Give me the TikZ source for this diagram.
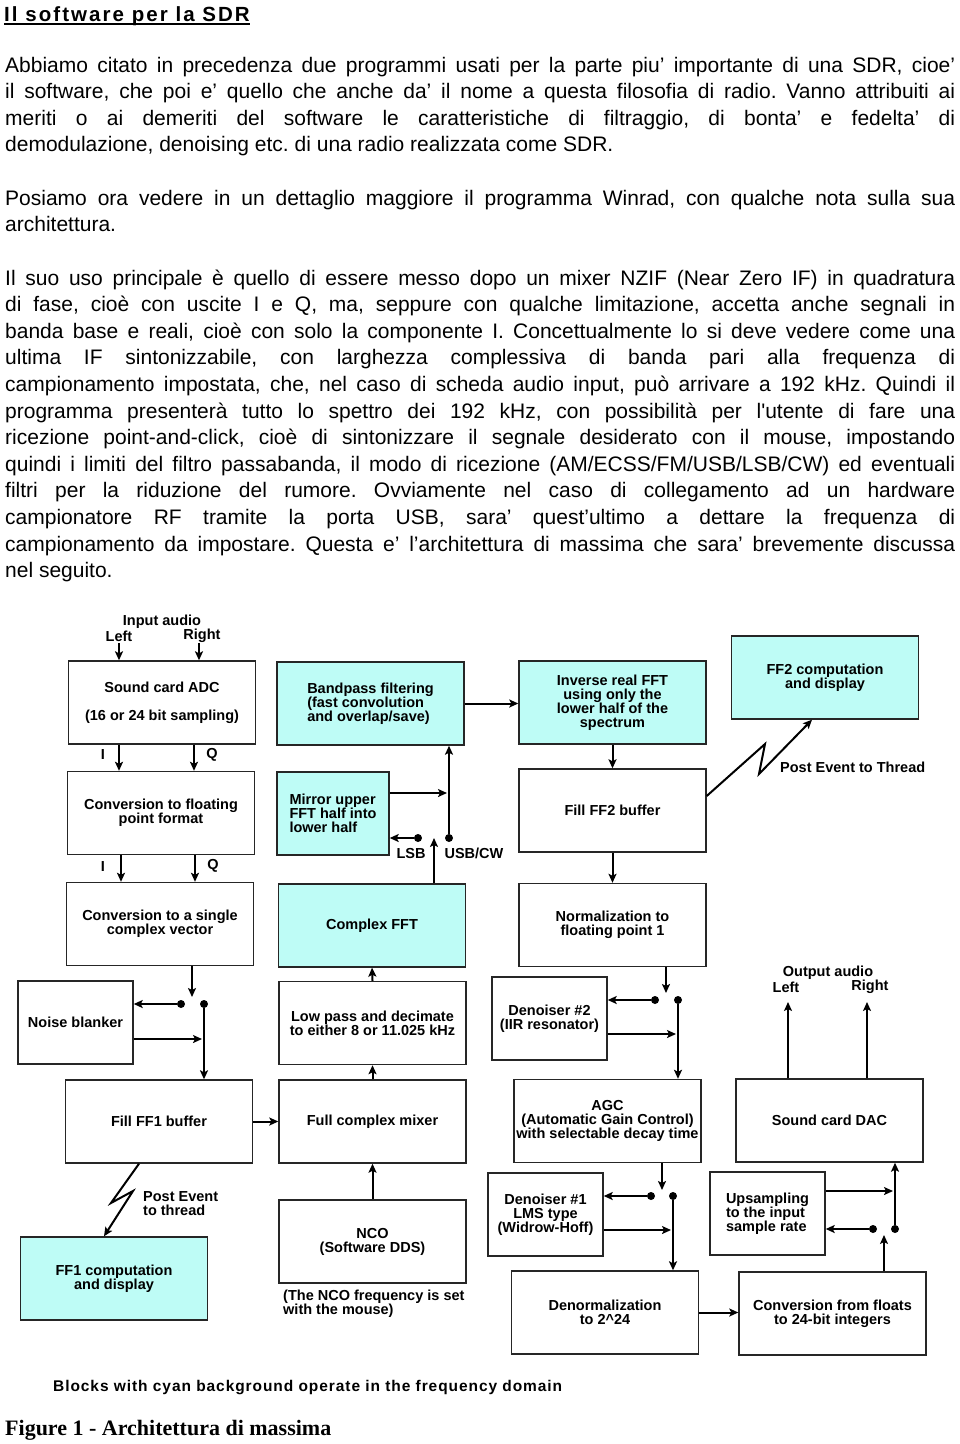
\documentclass[tikz,border=0pt]{standalone}
\usepackage{fontspec}
\setmainfont{Liberation Sans}
\newfontfamily\capfont{Liberation Serif}
\usetikzlibrary{arrows.meta,calc}

\definecolor{freqcyan}{RGB}{190,252,246}
\newcommand{\diagfont}{\fontsize{14.5}{14}\selectfont\bfseries}
\newcommand{\bodyfont}{\fontsize{21}{26.6}\selectfont\frenchspacing\parindent=0pt\hyphenpenalty=10000\exhyphenpenalty=10000\tolerance=10000\hbadness=10000}
\newcommand{\titlefont}{\fontsize{20.5}{24}\selectfont\bfseries\addfontfeatures{LetterSpace=10}}

\tikzset{
	blk/.style={draw=black!85,line width=1.4pt,minimum width=187pt,minimum height=83pt,inner sep=2pt,align=center,font=\diagfont},
	sblk/.style={blk,minimum width=115pt},
	fblk/.style={blk,fill=freqcyan},
	lbl/.style={inner sep=0pt,align=center,font=\diagfont},
	arr/.style={line width=2pt,-{Stealth[length=9pt,width=8pt,inset=2pt]}},
	swdot/.style={circle,fill=black,inner sep=0pt,minimum size=8pt},
	para/.style={inner sep=0pt,anchor=base west,text width=950pt,align=justify,font=\bodyfont}
}

\begin{document}
\begin{tikzpicture}[x=1pt,y=-1pt]
		\useasboundingbox (0,0) rectangle (960,1444);
		% page text
		\node [inner sep=0pt,anchor=base west,font=\titlefont] (title) at (4,21) {Il software per la SDR};
		\draw [line width=1.6pt] ($(title.base west)+(0,3)$)--($(title.base east)+(0,3)$);
		\node [para] (par1) at (5,72) {Abbiamo citato in precedenza due programmi usati per la parte piu’ importante di una SDR, cioe’\linebreak il software, che poi e’ quello che anche da’ il nome a questa filosofia di radio. Vanno attribuiti ai\linebreak meriti o ai demeriti del software le caratteristiche di filtraggio, di bonta’ e fedelta’ di\linebreak demodulazione, denoising etc. di una radio realizzata come SDR.};
		\node [para] (par2) at (5,205) {Posiamo ora vedere in un dettaglio maggiore il programma Winrad, con qualche nota sulla sua\linebreak architettura.};
		\node [para] (par3) at (5,285) {Il suo uso principale è quello di essere messo dopo un mixer NZIF (Near Zero IF) in quadratura\linebreak di fase, cioè con uscite I e Q, ma, seppure con qualche limitazione, accetta anche segnali in\linebreak banda base e reali, cioè con solo la componente I. Concettualmente lo si deve vedere come una\linebreak ultima IF sintonizzabile, con larghezza complessiva di banda pari alla frequenza di\linebreak campionamento impostata, che, nel caso di scheda audio input, può arrivare a 192 kHz. Quindi il\linebreak programma presenterà tutto lo spettro dei 192 kHz, con possibilità per l\textquotesingle utente di fare una\linebreak ricezione point-and-click, cioè di sintonizzare il segnale desiderato con il mouse, impostando\linebreak quindi i limiti del filtro passabanda, il modo di ricezione (AM/ECSS/FM/USB/LSB/CW) ed eventuali\linebreak filtri per la riduzione del rumore. Ovviamente nel caso di collegamento ad un hardware\linebreak campionatore RF tramite la porta USB, sara’ quest’ultimo a dettare la frequenza di\linebreak campionamento da impostare. Questa e’ l’architettura di massima che sara’ brevemente discussa\linebreak nel seguito.};
		% blocks
		\node [blk] (adc) at (162,702.5) {Sound card ADC\\[14pt](16 or 24 bit sampling)};
		\node [blk] (tofloat) at (161,813) {Conversion to floating\\point format};
		\node [blk] (tocplx) at (160,924) {Conversion to a single\\complex vector};
		\node [sblk] (nb) at (75.5,1022.5) {Noise blanker};
		\node [blk] (ff1buf) at (159,1121.5) {Fill FF1 buffer};
		\node [fblk] (ff1) at (114,1278.5) {FF1 computation\\and display};
		\node [fblk,align=left] (bpf) at (370.5,703.5) {Bandpass filtering\\(fast convolution\\and overlap/save)};
		\node [fblk,minimum width=112pt,align=left] (mirror) at (333,813.5) {Mirror upper\\FFT half into\\lower half};
		\node [fblk] (cfft) at (372,925.5) {Complex FFT};
		\node [blk] (lpf) at (372.5,1023) {Low pass and decimate\\to either 8 or 11.025 kHz};
		\node [blk] (mixer) at (372.5,1121.5) {Full complex mixer};
		\node [blk] (nco) at (372.5,1241.5) {NCO\\(Software DDS)};
		\node [fblk] (ifft) at (612.5,702.5) {Inverse real FFT\\using only the\\lower half of the\\spectrum};
		\node [blk] (ff2buf) at (612.5,810.5) {Fill FF2 buffer};
		\node [blk] (norm) at (612.5,925) {Normalization to\\floating point 1};
		\node [sblk] (dn2) at (549.5,1018.5) {Denoiser \#2\\(IIR resonator)};
		\node [blk] (agc) at (607.5,1121) {AGC\\(Automatic Gain Control)\\with selectable decay time};
		\node [sblk] (dn1) at (545.5,1214.5) {Denoiser \#1\\LMS type\\(Widrow-Hoff)};
		\node [blk] (denorm) at (605,1312.5) {Denormalization\\to 2\textasciicircum 24};
		\node [fblk] (ff2) at (825,677.5) {FF2 computation\\and display};
		\node [blk] (dac) at (829.5,1120.5) {Sound card DAC};
		\node [sblk,align=left] (upsmp) at (767.5,1213.5) {Upsampling\\to the input\\sample rate};
		\node [blk] (f2i) at (832.5,1313.5) {Conversion from floats\\to 24-bit integers};
		% switches
		\node [swdot] (sw1a) at (181,1004) {};
		\node [swdot] (sw1b) at (204,1004) {};
		\node [swdot] (lsb) at (418,838) {};
		\node [swdot] (usb) at (449,838) {};
		\node [swdot] (sw2a) at (655,1000) {};
		\node [swdot] (sw2b) at (678,1000) {};
		\node [swdot] (sw3a) at (651,1196) {};
		\node [swdot] (sw3b) at (673,1196) {};
		\node [swdot] (sw4a) at (873,1229) {};
		\node [swdot] (sw4b) at (895,1229) {};
		% labels
		\node [lbl] (inaudio) at (162,622) {Input audio};
		\node [lbl] (inleft) at (119,636) {Left};
		\node [lbl] (inright) at (202,636) {Right};
		\node [lbl] (i1) at (103,755) {I};
		\node [lbl] (q1) at (212,755) {Q};
		\node [lbl] (i2) at (103,866) {I};
		\node [lbl] (q2) at (213,866) {Q};
		\node [lbl] (lsbtxt) at (411,853) {LSB};
		\node [lbl] (usbtxt) at (474,853) {USB/CW};
		\node [lbl,anchor=west] (post2) at (780,767) {Post Event to Thread};
		\node [lbl,anchor=west,align=left] (post1) at (143,1203.5) {Post Event\\to thread};
		\node [lbl] (outaudio) at (828,973) {Output audio};
		\node [lbl] (outleft) at (786,987) {Left};
		\node [lbl] (outright) at (870,987) {Right};
		\node [lbl,anchor=west,align=left] (ncotxt) at (283,1303.5) {(The NCO frequency is set\\with the mouse)};
		\node [lbl,anchor=west,font=\fontsize{15.5}{16}\selectfont\bfseries\addfontfeatures{LetterSpace=6}] (legend) at (53,1388) {Blocks with cyan background operate in the frequency domain};
		\node [inner sep=0pt,anchor=base west,font=\capfont\fontsize{22}{26}\selectfont\bfseries] (caption) at (5,1435) {Figure 1 - Architettura di massima};
		% free ends
		\coordinate (cinL) at (119,643);
		\coordinate (cinR) at (199,643);
		\coordinate (cI1) at (119,0);
		\coordinate (cQ1) at (194,0);
		\coordinate (cI2) at (121,0);
		\coordinate (cQ2) at (195,0);
		\coordinate (sw1tip) at (192,997);
		\coordinate (cffttip) at (434,838);
		\coordinate (sw2tip) at (666,993);
		\coordinate (sw3tip) at (662,1190);
		\coordinate (sw4tip) at (884,1235);
		\coordinate (outL) at (788,1002);
		\coordinate (outR) at (867,1002);
		% left column
		\draw [arr] (cinL)--(cinL |- adc.north);
		\draw [arr] (cinR)--(cinR |- adc.north);
		\draw [arr] (cI1 |- adc.south)--(cI1 |- tofloat.north);
		\draw [arr] (cQ1 |- adc.south)--(cQ1 |- tofloat.north);
		\draw [arr] (cI2 |- tofloat.south)--(cI2 |- tocplx.north);
		\draw [arr] (cQ2 |- tofloat.south)--(cQ2 |- tocplx.north);
		\draw [arr] (sw1tip |- tocplx.south)--(sw1tip);
		\draw [arr] (sw1a)--(sw1a -| nb.east);
		\coordinate (nbout) at ($(nb.east)+(0,16.5)$);
		\draw [arr] (nbout)--($(nbout -| sw1b)+(-2,0)$);
		\draw [arr] (sw1b)--(sw1b |- ff1buf.north);
		\draw [arr] (ff1buf.east)--(ff1buf.east -| mixer.west);
		\draw [arr] ($(ff1buf.south)+(-20,0)$)--(111,1203)--(133,1191)--($(ff1.north)+(-10,0)$);
		% middle column
		\draw [arr] (nco.north)--(mixer.south);
		\draw [arr] (mixer.north)--(lpf.south);
		\draw [arr] (lpf.north)--(cfft.south);
		\draw [arr] (cffttip |- cfft.north)--(cffttip);
		\draw [arr] (lsb)--(lsb -| mirror.east);
		\draw [arr] (usb)--(usb |- bpf.south);
		\coordinate (mirout) at ($(mirror.east)+(0,-20.5)$);
		\draw [arr] (mirout)--($(mirout -| usb)+(-2,0)$);
		\draw [arr] (bpf.east)--(bpf.east -| ifft.west);
		% right columns
		\draw [arr] (ifft.south)--(ff2buf.north);
		\draw [arr] (ff2buf.south)--(norm.north);
		\draw [arr] ($(ff2buf.east)+(0,-14.5)$)--(765,744)--(759,774)--($(ff2.south)+(-13,0)$);
		\draw [arr] (sw2tip |- norm.south)--(sw2tip);
		\draw [arr] (sw2a)--(sw2a -| dn2.east);
		\coordinate (dn2out) at ($(dn2.east)+(0,15.5)$);
		\draw [arr] (dn2out)--($(dn2out -| sw2b)+(-2,0)$);
		\draw [arr] (sw2b)--(sw2b |- agc.north);
		\draw [arr] (sw3tip |- agc.south)--(sw3tip);
		\draw [arr] (sw3a)--(sw3a -| dn1.east);
		\coordinate (dn1out) at ($(dn1.east)+(0,15.5)$);
		\draw [arr] (dn1out)--($(dn1out -| sw3b)+(-2,0)$);
		\draw [arr] (sw3b)--(sw3b |- denorm.north);
		\draw [arr] (denorm.east)--(denorm.east -| f2i.west);
		\draw [arr] (sw4tip |- f2i.north)--(sw4tip);
		\draw [arr] (sw4a)--(sw4a -| upsmp.east);
		\coordinate (upout) at ($(upsmp.east)+(0,-22.5)$);
		\draw [arr] (upout)--($(upout -| sw4b)+(-2,0)$);
		\draw [arr] (sw4b)--(sw4b |- dac.south);
		\draw [arr] (outL |- dac.north)--(outL);
		\draw [arr] (outR |- dac.north)--(outR);
\end{tikzpicture}
\end{document}
